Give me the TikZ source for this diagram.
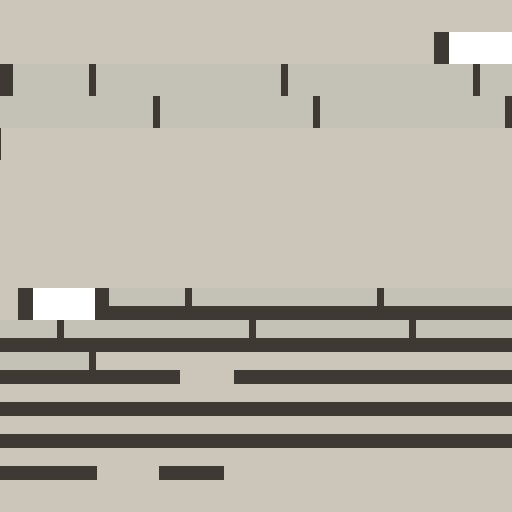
\documentclass[tikz,border=0pt]{standalone}
\usepackage{tikz}
\usetikzlibrary{calc}

\definecolor{wallbg}{HTML}{CCC6BA}
\definecolor{brickgray}{HTML}{C4C2B6}
\definecolor{mortardark}{HTML}{3E3933}

\tikzset{
  brick/.style={fill=brickgray},
  mortar/.style={fill=mortardark},
  pane/.style={fill=white}
}

\begin{document}
\begin{tikzpicture}[x=0.02cm,y=-0.02cm]

  \fill[wallbg] (0,0) rectangle (512,512);
  \useasboundingbox (0,0) rectangle (512,512);

  % upper wall
  \begin{scope}
    \fill[mortar] (434,32) rectangle (449,64);
    \fill[pane] (449,32) rectangle (512,64);
    \fill[brick] (0,64) rectangle (512,128);
    \fill[mortar] (0,64) rectangle (13,96);
    \foreach \x in {89,281,473}
      \fill[mortar] (\x,64) rectangle ++(7,32);
    \foreach \x in {153,313,505}
      \fill[mortar] (\x,96) rectangle ++(7,32);
    \fill[mortar] (0,128) rectangle (1,160);
  \end{scope}

  % lower wall
  \begin{scope}
    \fill[mortar] (18,288) rectangle (33,320);
    \fill[pane] (33,288) rectangle (95,320);
    \fill[mortar] (95,288) rectangle (109,320);
    \fill[brick] (109,288) rectangle (512,306);
    \fill[mortar] (95,306) rectangle (512,320);
    \foreach \x in {185,377}
      \fill[mortar] (\x,288) rectangle ++(7,18);
    \fill[brick] (0,320) rectangle (512,338);
    \foreach \x in {57,249,409}
      \fill[mortar] (\x,320) rectangle ++(7,18);
    \fill[mortar] (0,338) rectangle (512,352);
    \fill[brick] (0,352) rectangle (89,370);
    \fill[mortar] (89,352) rectangle (96,370);
    %fill[mortar] (left,top) rectangle (right,bottom);
    \fill[mortar] (0,370) rectangle (180,384);
    \fill[mortar] (234,370) rectangle (512,384);
    \foreach \y in {402,434}
      \fill[mortar] (0,\y) rectangle ++(512,14);
    \fill[mortar] (0,466) rectangle (97,480);
    \fill[mortar] (159,466) rectangle (224,480);
  \end{scope}

\end{tikzpicture}
\end{document}
